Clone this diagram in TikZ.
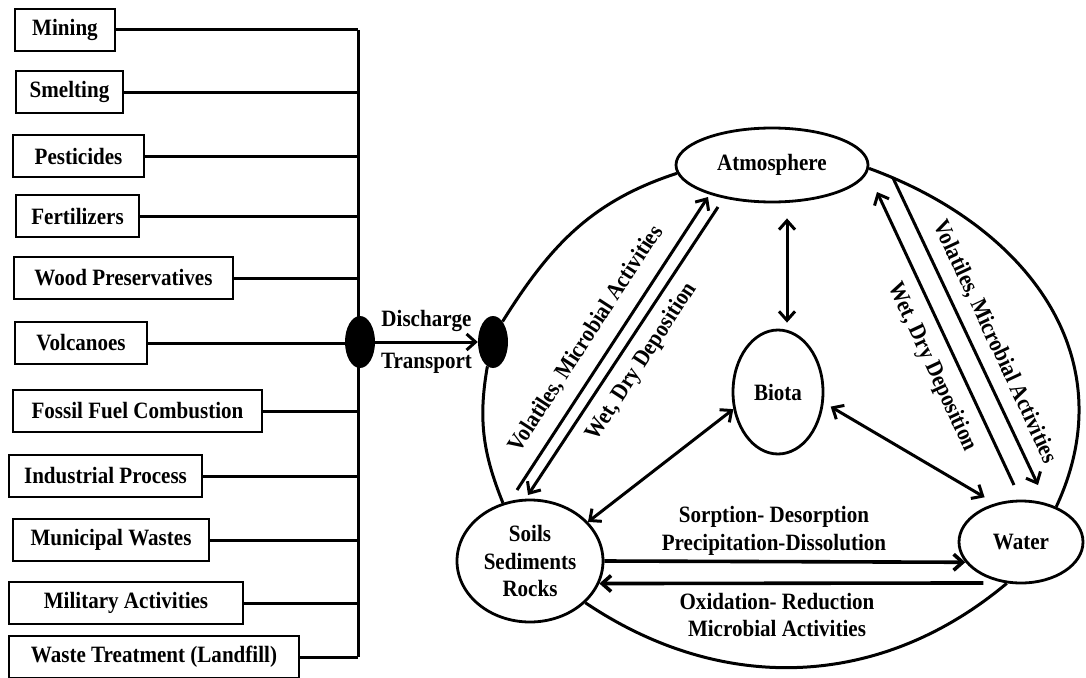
\documentclass[tikz,border=0pt]{standalone}
\usepackage{fontspec}
\setmainfont{Liberation Serif}[FakeStretch=0.9]
\usetikzlibrary{shapes.geometric,arrows.meta}

\newcommand{\labfont}{\fontsize{23.4}{27.5}\selectfont\bfseries}

\tikzset{
  srcbox/.style={draw, line width=2.4pt, minimum height=42pt, inner sep=0pt, font=\labfont},
  sphere/.style={draw, ellipse, line width=2.8pt, fill=white, inner sep=0pt, align=center, font=\labfont},
  blob/.style={ellipse, fill=black, minimum width=30pt, minimum height=52pt, inner sep=0pt},
  lab/.style={align=center, font=\labfont},
  link/.style={line width=3pt},
  flow/.style={line width=3pt, -{Straight Barb[length=9pt,width=16pt]}},
  both/.style={line width=3pt, {Straight Barb[length=9pt,width=16pt]}-{Straight Barb[length=9pt,width=16pt]}}
}

\begin{document}
\begin{tikzpicture}[x=1pt,y=1pt]
    \useasboundingbox (0,0) rectangle (1086,-677);

    % sources and the collecting bus
    \coordinate (busx) at (358,0);
    \foreach \n/\lab/\xl/\xr/\y in {mining/Mining/15/115/30, smelt/Smelting/16/123/92,
        pest/Pesticides/13/144/156, fert/Fertilizers/16/139/216,
        wood/Wood Preservatives/14/233/278, volc/Volcanoes/15/147/343,
        fossil/Fossil Fuel Combustion/13/262/411, indus/Industrial Process/9/202/476,
        munic/Municipal Wastes/13/209/540, milit/Military Activities/9/243/603,
        waste/Waste Treatment (Landfill)/9/299/657} {
        \node[srcbox, minimum width=\xr-\xl] (\n) at ({(\xl+\xr)/2},-\y) {\lab};
        \draw[link] (\n.east) -- (\n.east -| busx);
    }
    \draw[link] (mining.east -| busx) -- (waste.east -| busx);

    \node[blob] (blobL) at (360,-342) {};
    \node[blob] (blobR) at (493,-342) {};
    \draw[flow] (blobL) -- (blobR)
        node[lab, midway, above=6pt] (dis) {Discharge}
        node[lab, midway, below=6pt] (trans) {Transport};

    % compartments
    \node[sphere, minimum width=192pt, minimum height=74pt] (atm) at (772,-165) {Atmosphere};
    \node[sphere, minimum width=90pt, minimum height=124pt] (biota) at (778,-392) {Biota};
    \node[sphere, minimum width=146pt, minimum height=122pt] (soils) at (530,-561) {Soils\\Sediments\\Rocks};
    \node[sphere, minimum width=124pt, minimum height=82pt] (water) at (1021,-542) {Water};

    % outer cycle
    \draw[link] (blobR.65) to[out=58,in=198] (atm.185);
    \draw[link] (atm.-2) to[out=-20,in=65,looseness=1.1] (water.45);
    \draw[link] (water.-109) to[out=-140,in=-34] (soils.-37);
    \draw[link] (soils.115) to[out=112,in=-100] (blobR.-103);

    % exchanges with biota
    \draw[both, shorten <=15pt, shorten >=6pt] ([xshift=9pt]biota.north |- atm.south) -- ([xshift=9pt]biota.north);
    \draw[both] (soils.34) -- (biota.201);
    \draw[both, shorten <=8pt, shorten >=12pt] (biota.-13) -- (water.124);

    % soils <-> water
    \draw[flow, line width=3.6pt] (soils.east) -- (water.200);
    \draw[flow, line width=3.6pt, shorten <=21pt] (water.-112) -- (soils.-18);
    \node[lab] (sorp) at (774,-531) {Sorption- Desorption\\Precipitation-Dissolution};
    \node[lab] (oxid) at (777,-615) {Oxidation- Reduction\\Microbial Activities};

    % soils <-> atmosphere
    \coordinate (volLs) at (517,-490);
    \coordinate (volLe) at (708,-197);
    \coordinate (wetLs) at (718,-207);
    \coordinate (wetLe) at (528,-495);
    \draw[flow] (volLs) -- (volLe);
    \draw[flow] (wetLs) -- (wetLe);
    \node[lab, rotate=57] (volL) at (586,-339) {Volatiles, Microbial Activities};
    \node[lab, rotate=57] (wetL) at (642,-362) {Wet, Dry Deposition};

    % water <-> atmosphere
    \coordinate (wetRs) at (1014,-485);
    \coordinate (wetRe) at (877,-192);
    \coordinate (volRs) at (893,-178);
    \coordinate (volRe) at (1038,-485);
    \draw[flow] (wetRs) -- (wetRe);
    \draw[flow] (volRs) -- (volRe);
    \node[lab, rotate=-65] (volR) at (995,-342) {Volatiles, Microbial Activities};
    \node[lab, rotate=-65] (wetR) at (932,-367) {Wet, Dry Deposition};
\end{tikzpicture}
\end{document}
